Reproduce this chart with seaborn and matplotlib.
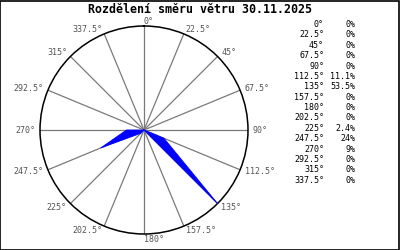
import matplotlib
matplotlib.use("Agg")
import matplotlib.pyplot as plt
from matplotlib.patches import Rectangle
import numpy as np
import pandas as pd
import seaborn as sns

# ---- data ----
directions = [0, 22.5, 45, 67.5, 90, 112.5, 135, 157.5,
              180, 202.5, 225, 247.5, 270, 292.5, 315, 337.5]
dir_labels = ["0°", "22.5°", "45°", "67.5°", "90°", "112.5°", "135°", "157.5°",
              "180°", "202.5°", "225°", "247.5°", "270°", "292.5°", "315°", "337.5°"]
percent = [0, 0, 0, 0, 0, 11.1, 53.5, 0, 0, 0, 2.4, 24, 9, 0, 0, 0]
pct_labels = ["0%", "0%", "0%", "0%", "0%", "11.1%", "53.5%", "0%",
              "0%", "0%", "2.4%", "24%", "9%", "0%", "0%", "0%"]
title = "Rozdělení směru větru 30.11.2025"

sns.set_style("white")
plt.rcParams["font.family"] = ["DejaVu Sans Mono"]

fig = plt.figure(figsize=(4, 2.5), dpi=100)
fig.patch.set_facecolor("white")
fig.patches.append(Rectangle((0.0012, 0.002), 0.9975, 0.996, transform=fig.transFigure,
                             fill=False, edgecolor="black", linewidth=1.2))

ax = fig.add_axes([0.1, 0.064, 0.52, 0.832], projection="polar")
ax.set_theta_zero_location("N")
ax.set_theta_direction(-1)
rmax = max(percent)
ax.set_ylim(0, rmax)
ax.grid(False)
ax.set_xticks([])
ax.set_yticks([])
ax.spines["polar"].set_color("black")
ax.spines["polar"].set_linewidth(1.1)
ax.set_facecolor("white")

for d in directions:
    t = np.deg2rad(d)
    ax.plot([t, t], [0, rmax], color="#7a7a7a", lw=0.9, zorder=1)

df = pd.DataFrame({
    "theta": np.deg2rad(directions + [directions[0]]),
    "r": percent + [percent[0]],
})
ax.fill(df["theta"], df["r"], color="#0000ff", zorder=2, lw=0)
sns.lineplot(data=df, x="theta", y="r", sort=False, estimator=None, ax=ax,
             color="#0000ff", lw=0.6, zorder=3)
ax.set_xlabel("")
ax.set_ylabel("")
ax.set_ylim(0, rmax)

for d, lab in zip(directions, dir_labels):
    t = np.deg2rad(d)
    ha = "left" if (d <= 180) else "right"
    off = 5
    ax.annotate(lab, xy=(t, rmax), xytext=(off * np.sin(t), off * np.cos(t)),
                textcoords="offset pixels", ha=ha, va="center",
                fontsize=6, color="#555555", annotation_clip=False)

fig.text(0.5, 0.962, title, ha="center", va="center", fontsize=8.4,
         fontweight="bold", color="black")

y0 = 1 - 24.5 / 250
dy = 10.38 / 250
for i, (dl, pl) in enumerate(zip(dir_labels, pct_labels)):
    y = y0 - i * dy
    fig.text(324 / 400, y, dl, ha="right", va="center", fontsize=6, color="black")
    fig.text(355 / 400, y, pl, ha="right", va="center", fontsize=6, color="black")

fig.savefig("out.png", dpi=100, facecolor="white")
